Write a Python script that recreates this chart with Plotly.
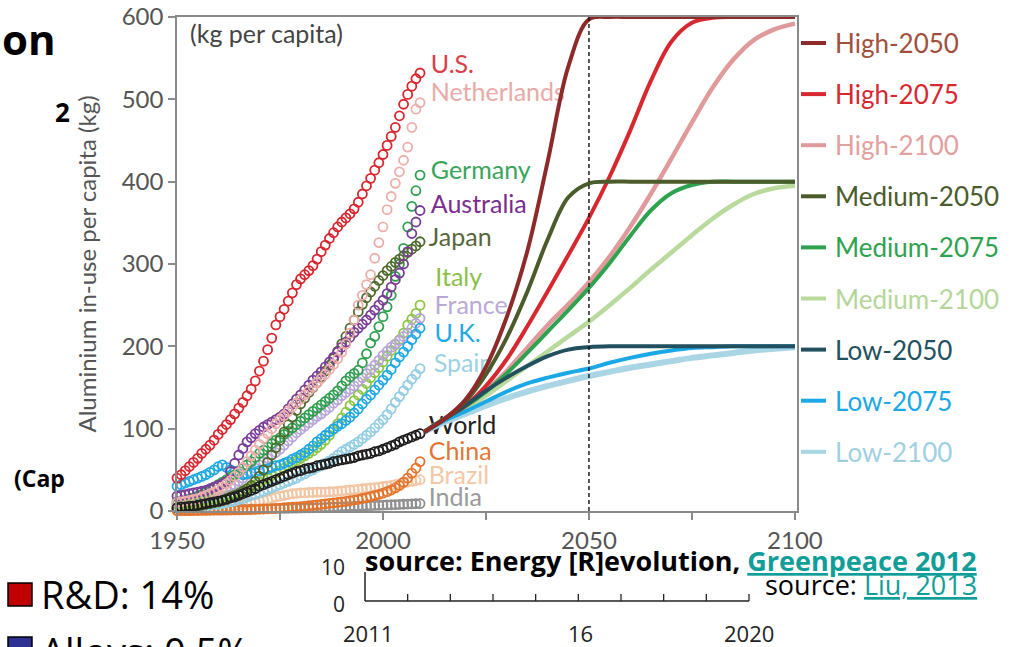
import plotly.graph_objects as go

# ---------------- data ----------------
YEARS = list(range(1950, 2010))

US = [40, 44, 49, 54, 59, 64, 70, 75, 80, 86,
      93, 99, 105, 111, 118, 125, 132, 140, 148, 158,
      170, 182, 196, 210, 226, 236, 245, 255, 265, 275,
      282, 287, 292, 298, 306, 315, 323, 331, 338, 345,
      351, 356, 361, 367, 375, 385, 395, 404, 414, 423,
      433, 444, 455, 466, 480, 494, 506, 516, 525, 532]
NETHERLANDS = [10, 11, 12, 13, 14, 15, 17, 19, 21, 23,
               26, 29, 33, 37, 42, 47, 53, 60, 67, 74,
               81, 88, 94, 100, 106, 111, 116, 121, 126, 131,
               136, 141, 146, 151, 156, 161, 166, 172, 178, 185,
               193, 203, 216, 232, 250, 262, 275, 287, 307, 326,
               345, 366, 382, 398, 412, 426, 442, 466, 488, 496]
GERMANY = [10, 11, 12, 14, 16, 18, 20, 23, 26, 29,
           32, 35, 38, 41, 44, 48, 52, 56, 60, 65,
           70, 74, 78, 82, 86, 89, 93, 97, 101, 105,
           109, 113, 117, 121, 125, 129, 133, 137, 141, 146,
           152, 158, 163, 167, 171, 180, 191, 204, 212, 224,
           236, 248, 262, 285, 300, 319, 345, 370, 389, 408]
AUSTRALIA = [18, 19, 20, 21, 22, 23, 24, 25, 27, 29,
             31, 33, 36, 48, 58, 68, 76, 84, 89, 94,
             98, 102, 105, 108, 111, 114, 118, 124, 130, 136,
             141, 147, 153, 159, 164, 169, 175, 181, 187, 193,
             199, 205, 211, 217, 222, 227, 232, 238, 244, 250,
             256, 264, 272, 281, 289, 300, 315, 337, 351, 365]
JAPAN = [4, 4, 5, 5, 6, 6, 7, 8, 9, 10,
         11, 13, 15, 17, 19, 21, 24, 27, 31, 36,
         42, 50, 59, 68, 77, 86, 96, 105, 114, 122,
         130, 137, 144, 150, 156, 163, 170, 177, 185, 194,
         203, 212, 222, 232, 242, 251, 259, 266, 273, 280,
         286, 292, 297, 302, 306, 310, 314, 318, 322, 327]
ITALY = [8, 8, 9, 9, 10, 11, 12, 13, 14, 15,
         16, 17, 18, 20, 21, 23, 25, 27, 29, 32,
         35, 38, 40, 43, 46, 49, 52, 55, 58, 61,
         64, 67, 70, 73, 77, 81, 86, 92, 99, 106,
         113, 120, 128, 134, 141, 148, 155, 162, 168, 174,
         181, 188, 195, 202, 208, 216, 226, 233, 240, 250]
FRANCE = [12, 13, 14, 15, 16, 17, 18, 19, 20, 21,
          22, 24, 26, 29, 32, 36, 40, 44, 48, 52,
          56, 60, 64, 68, 71, 75, 80, 85, 90, 95,
          99, 103, 107, 111, 115, 118, 122, 126, 131, 135,
          140, 144, 148, 152, 157, 162, 167, 172, 177, 183,
          189, 194, 199, 203, 207, 212, 216, 222, 228, 234]
UK = [30, 32, 34, 36, 38, 40, 42, 44, 47, 50,
      54, 56, 53, 50, 48, 46, 44, 45, 46, 47,
      49, 50, 51, 53, 55, 56, 58, 60, 63, 65,
      68, 71, 75, 79, 84, 88, 92, 96, 100, 103,
      106, 110, 114, 119, 124, 130, 136, 141, 147, 153,
      159, 165, 172, 180, 187, 193, 200, 208, 215, 222]
SPAIN = [4, 4, 5, 5, 5, 6, 6, 7, 7, 8,
         8, 9, 10, 11, 12, 14, 15, 17, 19, 20,
         22, 24, 26, 28, 30, 32, 34, 36, 38, 40,
         43, 45, 48, 50, 53, 55, 58, 61, 64, 68,
         72, 75, 78, 81, 84, 88, 92, 96, 101, 106,
         111, 117, 124, 132, 139, 146, 153, 160, 166, 173]
WORLD = [4, 5, 5, 6, 6, 7, 8, 9, 10, 11,
         12, 13, 14, 16, 17, 19, 21, 23, 25, 27,
         30, 32, 34, 36, 38, 40, 42, 44, 46, 48,
         49, 51, 52, 53, 55, 56, 57, 58, 60, 61,
         62, 63, 64, 65, 67, 68, 69, 70, 72, 73,
         75, 77, 79, 81, 84, 86, 88, 90, 92, 94]
CHINA = [0.5, 0.5, 0.5, 0.5, 0.6, 0.6, 0.7, 0.8, 0.9, 1.0,
         1.0, 1.0, 1.1, 1.2, 1.3, 1.4, 1.5, 1.6, 1.8, 2.0,
         2.2, 2.4, 2.7, 3.0, 3.3, 3.6, 4.0, 4.3, 4.6, 5.0,
         5.4, 5.9, 6.4, 6.9, 7.4, 8.0, 8.6, 9.2, 9.8, 10.4,
         11.0, 11.7, 12.5, 13.3, 14.2, 15.2, 16.3, 17.5, 18.8, 20.2,
         21.7, 23.5, 25.5, 28.0, 31.0, 35.0, 40.0, 46.0, 52.0, 60.0]
BRAZIL = [2, 2, 2, 2.5, 2.5, 3, 3, 3.5, 3.5, 4,
          4, 4.5, 5, 5.5, 6, 7, 8, 9, 10, 11,
          12, 13, 14, 15.5, 17, 18, 19, 20, 21, 21.5,
          22, 22, 22.5, 22.5, 23, 23, 23, 23.5, 23.5, 24,
          24.5, 25, 25.5, 26, 26.5, 27, 27.5, 28, 28.5, 29,
          30, 30.5, 31, 32, 33, 34, 35, 36, 37, 38]
INDIA = [1, 1, 1, 1, 1.2, 1.2, 1.3, 1.4, 1.5, 1.5,
         1.6, 1.7, 1.8, 1.9, 2.0, 2.1, 2.2, 2.3, 2.4, 2.5,
         2.6, 2.7, 2.8, 2.9, 3.0, 3.1, 3.2, 3.3, 3.4, 3.5,
         3.6, 3.7, 3.8, 3.9, 4.0, 4.2, 4.4, 4.6, 4.8, 5.0,
         5.2, 5.4, 5.6, 5.8, 6.0, 6.2, 6.4, 6.6, 6.8, 7.0,
         7.2, 7.4, 7.6, 7.8, 8.0, 8.2, 8.4, 8.6, 8.8, 9.0]

SCENARIO_YEARS = [2010, 2015, 2020, 2025, 2030, 2035, 2040, 2045, 2050, 2055,
                  2060, 2065, 2070, 2075, 2080, 2085, 2090, 2095, 2100]
HIGH_2050 = [96, 112, 135, 175, 235, 315, 425, 540, 597, 600, 600, 600, 600, 600, 600, 600, 600, 600, 600]
HIGH_2075 = [96, 112, 128, 152, 184, 224, 267, 311, 356, 406, 462, 522, 570, 593, 599, 600, 600, 600, 600]
HIGH_2100 = [96, 112, 127, 146, 170, 198, 226, 251, 278, 309, 345, 385, 428, 472, 514, 548, 572, 585, 592]
MEDIUM_2050 = [96, 112, 133, 166, 210, 266, 330, 381, 398, 400, 400, 400, 400, 400, 400, 400, 400, 400, 400]
MEDIUM_2075 = [96, 112, 127, 145, 167, 192, 218, 244, 271, 301, 334, 365, 386, 396, 400, 400, 400, 400, 400]
MEDIUM_2100 = [96, 112, 124, 140, 158, 176, 194, 212, 230, 250, 271, 293, 314, 335, 355, 372, 385, 392, 395]
LOW_2050 = [96, 112, 128, 146, 162, 176, 188, 196, 199, 200, 200, 200, 200, 200, 200, 200, 200, 200, 200]
LOW_2075 = [96, 110, 121, 133, 145, 155, 162, 168, 173, 180, 186, 191, 195, 198, 199, 200, 200, 200, 200]
LOW_2100 = [96, 108, 118, 128, 137, 145, 152, 158, 164, 169, 174, 178, 182, 186, 189, 192, 195, 197, 199]

X_TICKS = [1950, 1975, 2000, 2025, 2050, 2075, 2100]
X_TICK_TEXT = ["1950", "", "2000", "", "2050", "", "2100"]
Y_TICKS = [0, 100, 200, 300, 400, 500, 600]

# ---------------- styling ----------------
FONT = "Lato"
W, H = 1021, 647
L, R, T, B = 177, 224, 17, 136


def px(x):
    return (x - L) / (W - L - R)


def py(y):
    return (H - B - y) / (H - T - B)


countries = [
    ("India", INDIA, "#8f8f8f"),
    ("Brazil", BRAZIL, "#f2c5a3"),
    ("China", CHINA, "#e3742b"),
    ("Spain", SPAIN, "#93cde2"),
    ("Italy", ITALY, "#8cc544"),
    ("France", FRANCE, "#b6a5d6"),
    ("U.K.", UK, "#1fa8e3"),
    ("Germany", GERMANY, "#2e9f4f"),
    ("Japan", JAPAN, "#4e6a2d"),
    ("Australia", AUSTRALIA, "#7a3d97"),
    ("Netherlands", NETHERLANDS, "#ecaeab"),
    ("U.S.", US, "#d8262e"),
    ("World", WORLD, "#1e1e1e"),
]

labels = [
    ("U.S.", 2011.6, 539, "#d7404a"),
    ("Netherlands", 2011.6, 505, "#e9aaa7"),
    ("Germany", 2011.6, 411, "#39a55a"),
    ("Australia", 2011.6, 369, "#7b2c8f"),
    ("Japan", 2011.1, 329, "#56673b"),
    ("Italy", 2012.7, 281, "#8cc04a"),
    ("France", 2012.5, 247, "#b9a9d6"),
    ("U.K.", 2012.5, 213, "#1fa9e6"),
    ("Spain", 2012.3, 176, "#9dd2e4"),
    ("World", 2011.1, 101, "#222222"),
    ("China", 2011.1, 70, "#e27636"),
    ("Brazil", 2011.1, 40, "#f4c7a6"),
    ("India", 2011.1, 14, "#9a9a9a"),
]

scenarios = [
    ("Low-2100", LOW_2100, "#a9d5e4", "#9fd0e2", 6),
    ("Medium-2100", MEDIUM_2100, "#b9da9c", "#b5d69a", 4.5),
    ("High-2100", HIGH_2100, "#e09a9b", "#e3a0a0", 4.5),
    ("Low-2075", LOW_2075, "#1ba8e6", "#1ba8e6", 4),
    ("Medium-2075", MEDIUM_2075, "#2ea24f", "#2ea24f", 4),
    ("High-2075", HIGH_2075, "#d7282f", "#d7282f", 4),
    ("Low-2050", LOW_2050, "#22505e", "#22505e", 4),
    ("Medium-2050", MEDIUM_2050, "#4b5b2b", "#4b5b2b", 4),
    ("High-2050", HIGH_2050, "#8e2a2a", "#a0503c", 4),
]
legend_order = ["High-2050", "High-2075", "High-2100",
                "Medium-2050", "Medium-2075", "Medium-2100",
                "Low-2050", "Low-2075", "Low-2100"]

fig = go.Figure()

for name, vals, col in countries:
    fig.add_trace(go.Scatter(
        x=YEARS, y=vals, mode="markers", name=name,
        marker=dict(symbol="circle-open", size=9, color=col, line=dict(width=1.8, color=col)),
        cliponaxis=False, showlegend=False, hoverinfo="skip"))

fig.add_trace(go.Scatter(
    x=[l[1] for l in labels], y=[l[2] for l in labels], text=[l[0] for l in labels],
    mode="text", textposition="middle right",
    textfont=dict(family=FONT, size=25, color=[l[3] for l in labels]),
    cliponaxis=False, showlegend=False, hoverinfo="skip"))

for name, vals, col, _, w in scenarios:
    fig.add_trace(go.Scatter(
        x=SCENARIO_YEARS, y=vals, mode="lines", name=name,
        line=dict(color=col, width=w, shape="spline", smoothing=1.0),
        showlegend=False, hoverinfo="skip"))

shapes = [dict(type="line", xref="x", yref="y", x0=2050, x1=2050, y0=0, y1=600,
               line=dict(color="#111", width=1.4, dash="4px,3px"))]
annotations = []

# scenario key on the right
style = {s[0]: (s[2], s[3]) for s in scenarios}
for i, name in enumerate(legend_order):
    yy = 43 + i * 51.1
    lc, tc = style[name]
    shapes.append(dict(type="line", xref="paper", yref="paper",
                       x0=px(801), x1=px(826), y0=py(yy), y1=py(yy),
                       line=dict(color=lc, width=4)))
    annotations.append(dict(xref="paper", yref="paper", x=px(833), y=py(yy),
                            xanchor="left", yanchor="middle", showarrow=False,
                            text=name, font=dict(family=FONT, size=26, color=tc)))

annotations.append(dict(xref="paper", yref="paper", x=px(188), y=py(33),
                        xanchor="left", yanchor="middle", showarrow=False,
                        text="(kg per capita)", font=dict(family=FONT, size=25, color="#444")))

# surrounding slide text
SLIDE = "Open Sans"
slide_notes = [
    dict(x=px(0), y=py(39), text="<b>on</b>", font=dict(family=SLIDE, size=42, color="#000"),
         xanchor="left"),
    dict(x=px(53), y=py(112), text="<b>2</b>", font=dict(family=SLIDE, size=26, color="#000"),
         xanchor="left"),
    dict(x=px(12), y=py(478), text="<b>(Cap</b>", font=dict(family=SLIDE, size=23, color="#000"),
         xanchor="left"),
    dict(x=px(39), y=py(594), text="R&D: 14%", font=dict(family=SLIDE, size=38, color="#000"),
         xanchor="left"),
    dict(x=px(39), y=py(651), text="Alloys: 0.5%", font=dict(family=SLIDE, size=38, color="#000"),
         xanchor="left"),
    dict(x=px(333), y=py(567), text="10", font=dict(family=SLIDE, size=21, color="#222"),
         xanchor="center"),
    dict(x=px(339), y=py(604), text="0", font=dict(family=SLIDE, size=21, color="#222"),
         xanchor="center"),
    dict(x=px(368), y=py(633), text="2011", font=dict(family=SLIDE, size=22, color="#222"),
         xanchor="center"),
    dict(x=px(580), y=py(633), text="16", font=dict(family=SLIDE, size=22, color="#222"),
         xanchor="center"),
    dict(x=px(749), y=py(633), text="2020", font=dict(family=SLIDE, size=22, color="#222"),
         xanchor="center"),
    dict(x=px(363), y=py(560),
         text="<b>source: Energy [R]evolution, <span style='color:#119e99'><u>Greenpeace 2012</u></span></b>",
         font=dict(family=SLIDE, size=27, color="#000"), xanchor="left"),
    dict(x=px(979), y=py(584),
         text="source: <span style='color:#119e99'><u>Liu, 2013</u></span>",
         font=dict(family=SLIDE, size=27, color="#000"), xanchor="right"),
]
for a in slide_notes:
    a.update(xref="paper", yref="paper", showarrow=False, yanchor="middle")
annotations += slide_notes

# legend boxes and small secondary axis
shapes += [
    dict(type="rect", xref="paper", yref="paper", x0=px(8), x1=px(32), y0=py(606), y1=py(583),
         fillcolor="#c00000", line=dict(color="#000", width=1.5)),
    dict(type="rect", xref="paper", yref="paper", x0=px(8), x1=px(32), y0=py(660), y1=py(637),
         fillcolor="#2e3192", line=dict(color="#000", width=1.5)),
    dict(type="line", xref="paper", yref="paper", x0=px(365), x1=px(749), y0=py(601), y1=py(601),
         line=dict(color="#222", width=1.5)),
    dict(type="line", xref="paper", yref="paper", x0=px(365), x1=px(365), y0=py(601), y1=py(572),
         line=dict(color="#222", width=1.5)),
]
for k in range(1, 10):
    xk = 365 + k * (749 - 365) / 9
    shapes.append(dict(type="line", xref="paper", yref="paper", x0=px(xk), x1=px(xk),
                       y0=py(601), y1=py(594), line=dict(color="#222", width=1.3)))

fig.update_layout(
    width=W, height=H,
    margin=dict(l=L, r=R, t=T, b=B, autoexpand=False),
    paper_bgcolor="white", plot_bgcolor="white",
    font=dict(family=FONT, color="#555"),
    shapes=shapes, annotations=annotations,
    xaxis=dict(range=[1950, 2100.5], tickvals=X_TICKS, ticktext=X_TICK_TEXT,
               automargin=False,
               showgrid=False, zeroline=False, showline=True, mirror=True,
               linecolor="#8a8a8a", linewidth=1.5, ticks="outside", ticklen=7,
               tickcolor="#8a8a8a", tickwidth=1.5,
               tickfont=dict(family=FONT, size=24, color="#555")),
    yaxis=dict(range=[0, 600], tickvals=Y_TICKS, automargin=False,
               showgrid=False, zeroline=False, showline=True, mirror=True,
               linecolor="#8a8a8a", linewidth=1.5, ticks="outside", ticklen=7,
               tickcolor="#8a8a8a", tickwidth=1.5,
               tickfont=dict(family=FONT, size=24, color="#555"),
               title=dict(text="Aluminium in-use per capita (kg)", standoff=18,
                          font=dict(family=FONT, size=24, color="#555"))),
)

fig.write_html("out.html")
